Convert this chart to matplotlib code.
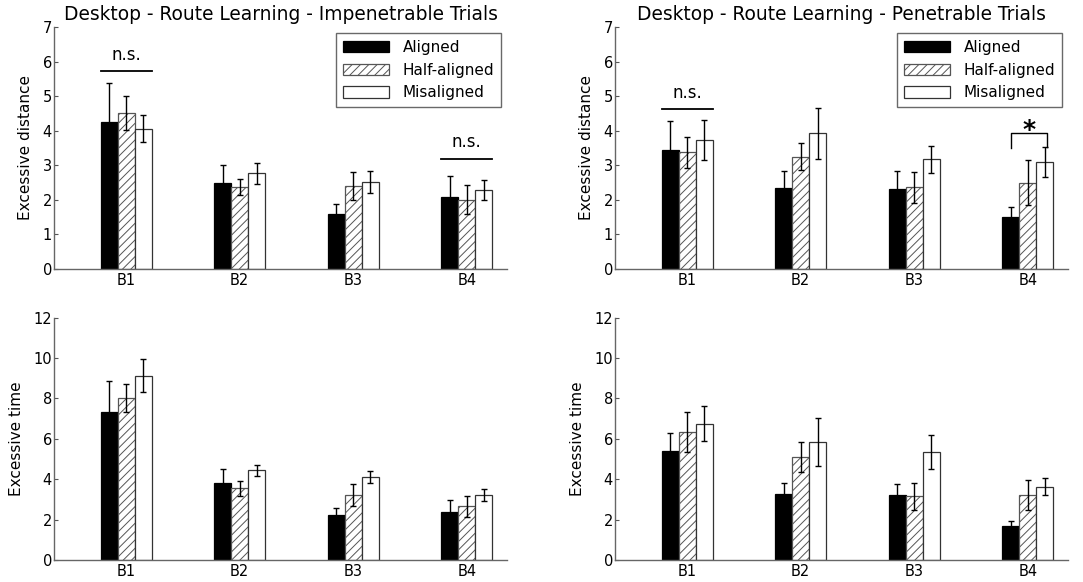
import numpy as np
import matplotlib
matplotlib.use("Agg")
import matplotlib.pyplot as plt

blocks = ["B1", "B2", "B3", "B4"]
conditions = ["Aligned", "Half-aligned", "Misaligned"]

# Top-left: Impenetrable, excessive distance
imp_dist = [[4.26, 2.49, 1.60, 2.08],
            [4.50, 2.38, 2.41, 2.01],
            [4.06, 2.77, 2.52, 2.28]]
imp_dist_err = [[1.13, 0.51, 0.29, 0.61],
                [0.49, 0.23, 0.41, 0.42],
                [0.39, 0.31, 0.31, 0.29]]
# Top-right: Penetrable, excessive distance
pen_dist = [[3.44, 2.34, 2.30, 1.49],
            [3.37, 3.25, 2.36, 2.50],
            [3.72, 3.92, 3.17, 3.10]]
pen_dist_err = [[0.83, 0.50, 0.54, 0.29],
                [0.44, 0.40, 0.46, 0.64],
                [0.58, 0.73, 0.39, 0.43]]
# Bottom-left: Impenetrable, excessive time
imp_time = [[7.35, 3.80, 2.25, 2.39],
            [8.04, 3.55, 3.22, 2.66],
            [9.13, 4.44, 4.11, 3.22]]
imp_time_err = [[1.53, 0.69, 0.31, 0.60],
                [0.69, 0.38, 0.54, 0.53],
                [0.82, 0.28, 0.30, 0.31]]
# Bottom-right: Penetrable, excessive time
pen_time = [[5.38, 3.27, 3.24, 1.67],
            [6.34, 5.12, 3.15, 3.22],
            [6.75, 5.84, 5.35, 3.63]]
pen_time_err = [[0.93, 0.53, 0.52, 0.26],
                [1.01, 0.74, 0.66, 0.76],
                [0.88, 1.17, 0.86, 0.41]]

titles = ["Desktop - Route Learning - Impenetrable Trials",
          "Desktop - Route Learning - Penetrable Trials"]

plt.rcParams['font.family'] = ['DejaVu Sans']
plt.rcParams['hatch.linewidth'] = 0.7

fig = plt.figure(figsize=(10.83, 5.82), dpi=100)
W, H = 1083.0, 582.0

def make_ax(left_px, top_px, bottom_px, width_px=453):
    return fig.add_axes([left_px / W, 1 - bottom_px / H, width_px / W, (bottom_px - top_px) / H])

ax_tl = make_ax(54, 27, 269)
ax_tr = make_ax(615, 27, 269)
ax_bl = make_ax(54, 317.7, 560)
ax_br = make_ax(615, 317.7, 560)

styles = [dict(color="black", edgecolor="black", hatch=None),
          dict(color="white", edgecolor="#555555", hatch="////"),
          dict(color="white", edgecolor="#333333", hatch=None)]

w = 0.15
x = np.arange(len(blocks))

def draw(ax, vals, errs, ymax, yticks, ylabel, title=None, legend=False):
    for k in range(3):
        st = styles[k]
        ax.bar(x + (k - 1) * w, vals[k], w, yerr=errs[k], color=st["color"],
               edgecolor=st["edgecolor"], hatch=st["hatch"], linewidth=0.9,
               label=conditions[k],
               error_kw=dict(ecolor="black", elinewidth=1.0, capsize=2.5, capthick=1.0))
    ax.set_xlim(-0.635, 3.355)
    ax.set_ylim(0, ymax)
    ax.set_yticks(yticks)
    ax.set_xticks(x)
    ax.set_xticklabels(blocks, fontsize=10.5)
    ax.tick_params(axis='y', direction='in', length=3, labelsize=10.5, color="#555555", pad=1.5)
    ax.tick_params(axis='x', length=0, pad=3)
    for s in ['top', 'right']:
        ax.spines[s].set_visible(False)
    for s in ['left', 'bottom']:
        ax.spines[s].set_color("#666666")
        ax.spines[s].set_linewidth(1.0)
    ax.set_ylabel(ylabel, fontsize=11, labelpad=7)
    if title:
        ax.set_title(title, fontsize=13.4, pad=5)
    if legend:
        leg = ax.legend(loc="upper right", fontsize=11, fancybox=False, handlelength=3.0,
                        handleheight=0.75, borderaxespad=0.4, labelspacing=0.5,
                        borderpad=0.45, handletextpad=0.9)
        leg.get_frame().set_edgecolor("#444444")
        leg.get_frame().set_linewidth(1.0)

draw(ax_tl, imp_dist, imp_dist_err, 7, range(0, 8), "Excessive distance", titles[0], True)
draw(ax_tr, pen_dist, pen_dist_err, 7, range(0, 8), "Excessive distance", titles[1], True)
draw(ax_bl, imp_time, imp_time_err, 12, range(0, 13, 2), "Excessive time")
draw(ax_br, pen_time, pen_time_err, 12, range(0, 13, 2), "Excessive time")

# significance annotations
def ns(ax, i, y_line, y_text):
    ax.plot([i - 1.5 * w, i + 1.5 * w], [y_line, y_line], color="black", lw=1.3)
    ax.text(i, y_text, "n.s.", ha="center", va="center", fontsize=12)

ns(ax_tl, 0, 5.73, 6.19)
ns(ax_tl, 3, 3.17, 3.68)
ns(ax_tr, 0, 4.63, 5.08)

# star bracket in top-right B4
i = 3
xl, xr = i - w, i + w + 0.02
ax_tr.plot([xl, xl, xr, xr], [3.49, 3.94, 3.94, 3.54], color="black", lw=1.0)
ax_tr.text((xl + xr) / 2, 4.02, "*", ha="center", va="center", fontsize=18, fontweight="bold")

fig.savefig("out.png", dpi=100)
